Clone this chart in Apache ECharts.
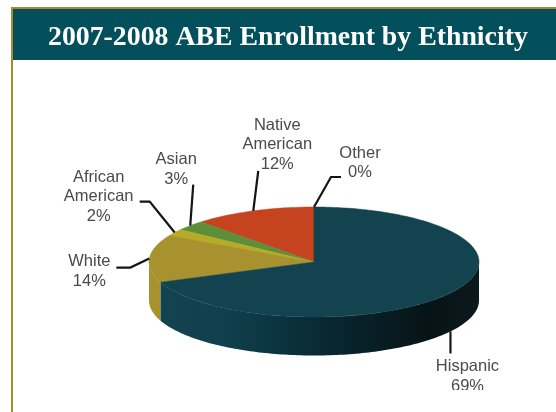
<!DOCTYPE html>
<html><head><meta charset="utf-8">
<style>html,body{margin:0;padding:0;background:#fff}#c{width:556px;height:412px}</style>
<script src="https://cdn.jsdelivr.net/npm/echarts@6/dist/echarts.min.js"></script>
</head><body><div id="c"></div>
<script>
// Data, ordered counter-clockwise from 12 o'clock as drawn
const categories = ['Other', 'Native\nAmerican', 'Asian', 'African\nAmerican', 'White', 'Hispanic'];
const percents = [0, 12, 3, 2, 14, 69];
const titleText = '2007-2008 ABE Enrollment by Ethnicity';

// Presentation, kept apart from the data
const topColors = ['#7a7a7a', '#c6431f', '#5d8f3a', '#b6ab24', '#a8922f', '#12434f'];
const sideColors = ['#555', '#8f2f15', '#3f6528', '#85801a', '#a8922f', null];
const PIE = { cx: 314, cy: 262, rx: 165, ry: 55, depth: 38.5 };
// leader elbows and label centre, relative to the slice's rim anchor
const labelLayout = [
  { pts: [[17, -30], [27, -30]], label: [46, -44] },
  { pts: [[5, -40]], label: [24, -66] },
  { pts: [[3, -41]], label: [-14, -56] },
  { pts: [[-25, -31], [-35, -31]], label: [-76, -36] },
  { pts: [[-19, 9], [-33, 9]], label: [-60, 13] },
  { pts: [[0, 22]], label: [17, 45] }
];

const total = percents.reduce((a, b) => a + b, 0);
const point = (t, dz) => [PIE.cx - PIE.rx * Math.sin(t), PIE.cy - PIE.ry * Math.cos(t) + (dz || 0)];

function arc(a, b, dz) {
  const n = Math.max(2, Math.ceil((b - a) / 0.02));
  const out = [];
  for (let i = 0; i <= n; i++) out.push(point(a + (b - a) * i / n, dz));
  return out;
}

function renderItem(params, api) {
  const i = params.dataIndex;
  const value = api.value(0);
  let before = 0;
  for (let k = 0; k < i; k++) before += percents[k];
  const a = before / total * Math.PI * 2;
  const b = (before + value) / total * Math.PI * 2;
  const mid = (a + b) / 2;
  const children = [];

  if (value > 0) {
    children.push({
      type: 'polygon', z2: 2,
      shape: { points: [[PIE.cx, PIE.cy]].concat(arc(a, b)) },
      style: { fill: topColors[i], stroke: topColors[i], lineWidth: 0.5 }
    });
    const s = Math.max(a, Math.PI / 2), e = Math.min(b, Math.PI * 1.5);
    if (e > s) {
      const fill = sideColors[i] || {
        type: 'linear', x: 0, y: 0, x2: 1, y2: 0,
        colorStops: [
          { offset: 0, color: '#12434f' }, { offset: 0.2, color: '#10404c' },
          { offset: 0.42, color: '#0a303b' }, { offset: 0.6, color: '#07232b' },
          { offset: 0.85, color: '#071316' }, { offset: 1, color: '#0b1a1e' }
        ]
      };
      children.push({
        type: 'polygon', z2: 1,
        shape: { points: arc(s, e).concat(arc(s, e, PIE.depth).reverse()) },
        style: { fill: fill }
      });
    }
  }

  const onFront = mid > Math.PI * 1.05 && mid < Math.PI * 1.5;
  const anchor = point(mid, onFront ? PIE.depth : 0);
  const lay = labelLayout[i];
  const line = [anchor].concat(lay.pts.map(p => [anchor[0] + p[0], anchor[1] + p[1]]));
  children.push({
    type: 'polyline', z2: 3, shape: { points: line },
    style: { stroke: '#151515', lineWidth: 2.2, fill: 'none' }
  });
  children.push({
    type: 'text', z2: 4,
    x: anchor[0] + lay.label[0], y: anchor[1] + lay.label[1],
    style: {
      text: categories[i] + '\n' + value + '%',
      font: '16.5px "Liberation Sans", Arial, sans-serif',
      lineHeight: 19.5, fill: '#4a4a4a', align: 'center', verticalAlign: 'middle'
    }
  });
  return { type: 'group', children };
}

const chart = echarts.init(document.getElementById('c'), null, { renderer: 'canvas' });
chart.setOption({
  animation: false,
  backgroundColor: '#fff',
  title: {
    text: titleText, left: 43, top: 19, z: 20,
    textStyle: { color: '#fff', fontFamily: '"Liberation Serif", serif', fontWeight: 'bold', fontSize: 27.8 }
  },
  graphic: [
    { type: 'rect', z: 1, shape: { x: 11, y: 7, width: 545, height: 2 }, style: { fill: '#a68a2c' } },
    { type: 'rect', z: 1, shape: { x: 11, y: 7, width: 2, height: 405 }, style: { fill: '#a68a2c' } },
    { type: 'rect', z: 2, shape: { x: 13, y: 9, width: 543, height: 51 }, style: { fill: '#03505c' } },
    { type: 'rect', z: 50, shape: { x: 400, y: 390, width: 156, height: 22 }, style: { fill: '#fff' } }
  ],
  series: [{
    type: 'custom', coordinateSystem: 'none', z: 5,
    renderItem,
    data: percents.map((v, i) => ({ name: categories[i], value: [v] }))
  }]
});
</script></body></html>
